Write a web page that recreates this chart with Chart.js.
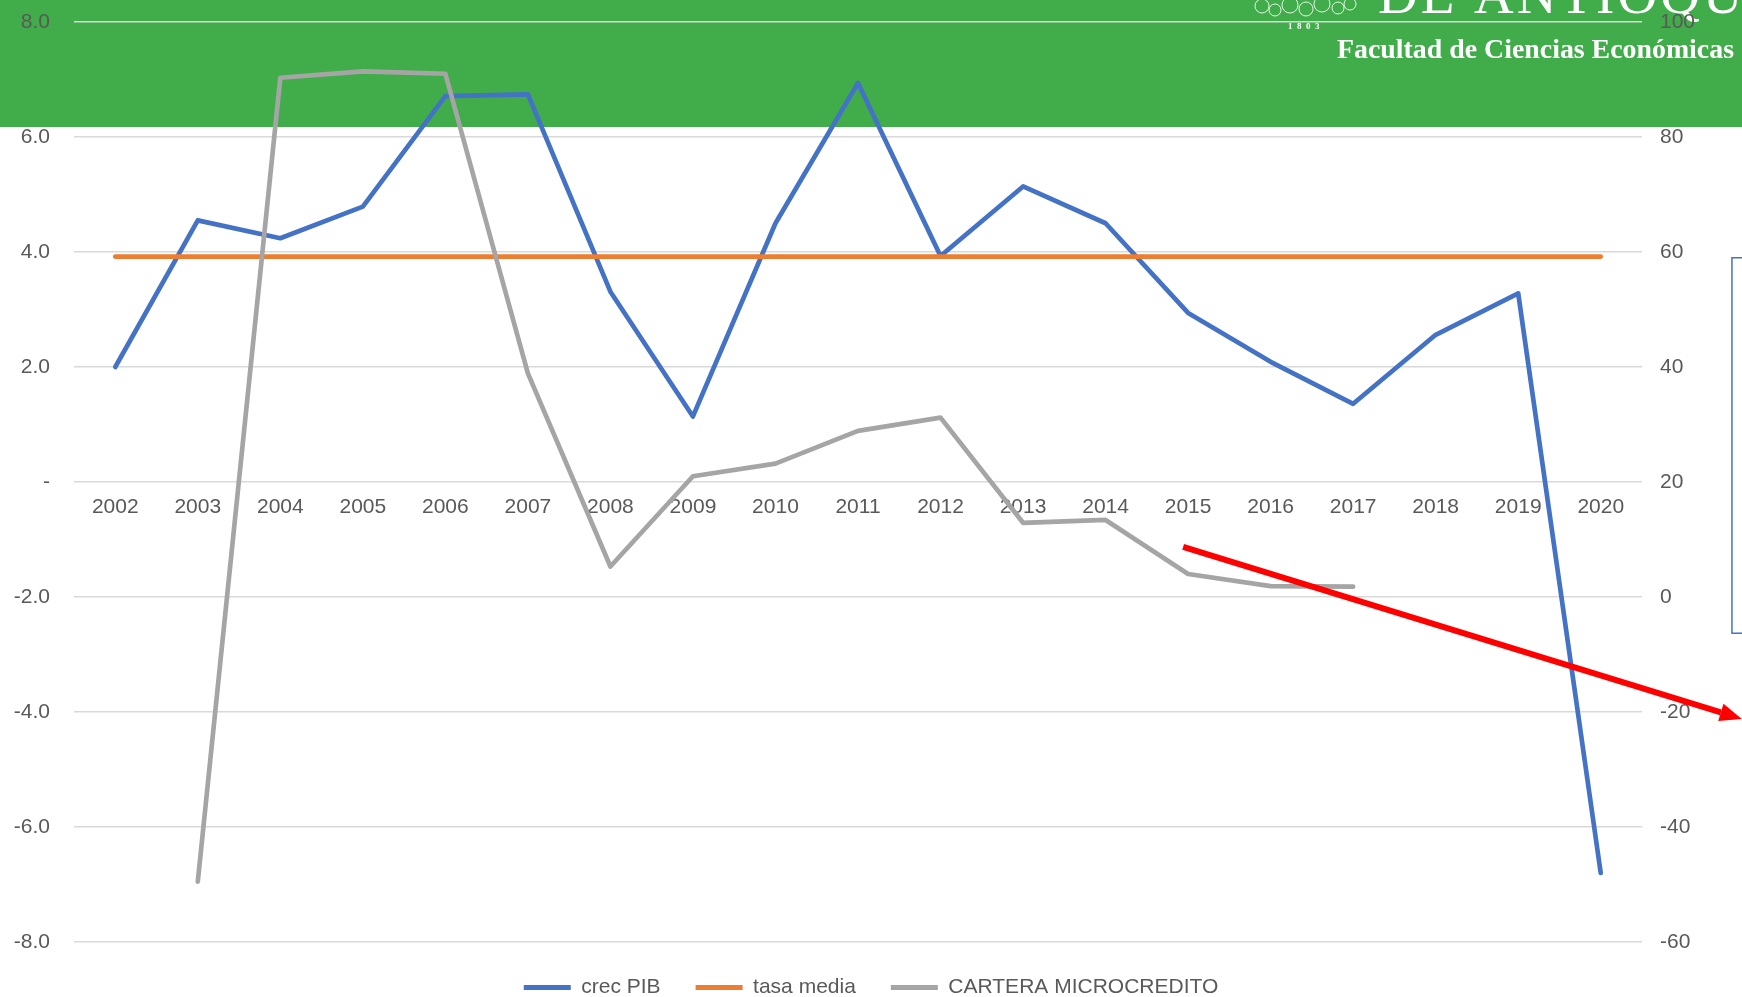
<!DOCTYPE html>
<html>
<head>
<meta charset="utf-8">
<script src="https://cdn.jsdelivr.net/npm/chart.js@4/dist/chart.umd.min.js"></script>
<style>
html,body{margin:0;padding:0;background:#fff;}
#wrap{width:1742px;height:997px;}
</style>
</head>
<body>
<div id="wrap"><canvas id="c" width="1742" height="997"></canvas></div>
<script>
const years = ['2002','2003','2004','2005','2006','2007','2008','2009','2010','2011','2012','2013','2014','2015','2016','2017','2018','2019','2020'];
const crecPIB = [2.0, 4.55, 4.24, 4.79, 6.71, 6.74, 3.31, 1.14, 4.50, 6.94, 3.93, 5.14, 4.50, 2.94, 2.09, 1.36, 2.56, 3.28, -6.8];
const tasaMedia = [3.92, 3.92, 3.92, 3.92, 3.92, 3.92, 3.92, 3.92, 3.92, 3.92, 3.92, 3.92, 3.92, 3.92, 3.92, 3.92, 3.92, 3.92, 3.92];
const carteraMicro = [null, -49.5, 90.3, 91.4, 91.0, 38.9, 5.3, 21.0, 23.2, 28.9, 31.2, 12.9, 13.4, 4.0, 1.9, 1.8, null, null, null];
const seriesNames = ['crec PIB', 'tasa media', 'CARTERA MICROCREDITO'];
const leftTicks = {min: -8, max: 8, step: 2};
const rightTicks = {min: -60, max: 100, step: 20};
// annotation (red arrow) in data units: [categoryIndex, rightAxisValue]
const arrowFrom = [12.94, 8.7];
const arrowTo = [19.71, -21.2];
// blue box annotation in data units
const boxFrom = [19.59, 59.0];
const boxTo = [20.5, -6.3];

const TXT = '#595959';
const GRID = '#D9D9D9';
const FONT = "'Liberation Sans', Arial, sans-serif";
const FS = 21;

const bannerPlugin = {
  id: 'banner',
  beforeDraw(chart) {
    const ctx = chart.ctx;
    ctx.save();
    ctx.fillStyle = '#41AD4A';
    ctx.fillRect(0, 0, chart.width, 127);
    ctx.fillStyle = '#ffffff';
    ctx.strokeStyle = 'rgba(255,255,255,0.85)';
    ctx.lineWidth = 1;
    const blobs = [[1262,6,7],[1275,10,6],[1290,5,8],[1306,9,7],[1322,4,8],[1338,8,6],[1350,4,6]];
    blobs.forEach(b => { ctx.beginPath(); ctx.arc(b[0], b[1], b[2], 0, Math.PI*2); ctx.stroke(); });
    ctx.font = "bold 9px 'Liberation Serif', serif";
    ctx.textAlign = 'left';
    ctx.textBaseline = 'alphabetic';
    ctx.fillText('1  8  0  3', 1288, 29);
    ctx.font = "55px 'Liberation Serif', serif";
    if ('letterSpacing' in ctx) ctx.letterSpacing = '3px';
    ctx.fillText('DE ANTIOQUIA', 1378, 13);
    if ('letterSpacing' in ctx) ctx.letterSpacing = '0px';
    const sub = 'Facultad de Ciencias Económicas';
    let fs = 30;
    ctx.font = "bold " + fs + "px 'Liberation Serif', serif";
    const w = ctx.measureText(sub).width;
    fs = fs * 397 / w;
    ctx.font = "bold " + fs.toFixed(2) + "px 'Liberation Serif', serif";
    ctx.textAlign = 'right';
    ctx.fillText(sub, 1734, 58);
    ctx.restore();
  },
  afterDraw(chart) {
    const ctx = chart.ctx;
    const xs = chart.scales.x, yr = chart.scales.y1;
    const px = v => xs.getPixelForValue(v[0]);
    const py = v => yr.getPixelForValue(v[1]);
    ctx.save();
    ctx.strokeStyle = '#4472C4';
    ctx.lineWidth = 1.5;
    ctx.strokeRect(px(boxFrom), py(boxFrom), px(boxTo) - px(boxFrom), py(boxTo) - py(boxFrom));
    const x1 = px(arrowFrom), y1 = py(arrowFrom), x2 = px(arrowTo), y2 = py(arrowTo);
    const ang = Math.atan2(y2 - y1, x2 - x1);
    const head = 22, hw = 9;
    const bx = x2 - head * Math.cos(ang), by = y2 - head * Math.sin(ang);
    ctx.strokeStyle = '#FF0000';
    ctx.lineWidth = 6;
    ctx.beginPath(); ctx.moveTo(x1, y1); ctx.lineTo(bx, by); ctx.stroke();
    ctx.fillStyle = '#FF0000';
    ctx.beginPath();
    ctx.moveTo(x2, y2);
    ctx.lineTo(bx + hw * Math.sin(ang), by - hw * Math.cos(ang));
    ctx.lineTo(bx - hw * Math.sin(ang), by + hw * Math.cos(ang));
    ctx.closePath(); ctx.fill();
    ctx.restore();
  }
};

const mk = (label, data, color, axis, order) => ({
  label, data, borderColor: color, backgroundColor: color, yAxisID: axis, order,
  borderWidth: 4.7, pointRadius: 0, pointHoverRadius: 0, tension: 0,
  borderCapStyle: 'round', borderJoinStyle: 'round', fill: false, spanGaps: false
});

new Chart(document.getElementById('c'), {
  type: 'line',
  data: {
    labels: years,
    datasets: [
      mk(seriesNames[0], crecPIB, '#4472C4', 'y', 2),
      mk(seriesNames[1], tasaMedia, '#ED7D31', 'y', 1),
      mk(seriesNames[2], carteraMicro, '#A5A5A5', 'y1', 0)
    ]
  },
  options: {
    responsive: false,
    animation: false,
    devicePixelRatio: 1,
    layout: {padding: {top: 22, left: 0, right: 0, bottom: -11}},
    plugins: {
      tooltip: {enabled: false},
      legend: {
        position: 'bottom',
        labels: {
          boxWidth: 47, boxHeight: 5, padding: 35, color: TXT,
          font: {family: FONT, size: FS},
          generateLabels(chart) {
            return chart.data.datasets.map((ds, i) => ({
              text: ds.label, fillStyle: ds.borderColor, strokeStyle: ds.borderColor,
              lineWidth: 0, hidden: false, datasetIndex: i, fontColor: TXT
            }));
          }
        }
      }
    },
    scales: {
      x: {
        type: 'category',
        offset: true,
        position: {y: 0},
        grid: {display: false, offset: true},
        border: {display: false},
        ticks: {color: TXT, font: {family: FONT, size: FS}, padding: 5, maxRotation: 0, autoSkip: false},
        afterFit(s) { s.height = 0; }
      },
      y: {
        position: 'left',
        min: leftTicks.min, max: leftTicks.max,
        grid: {color: GRID, lineWidth: 1.5, drawTicks: false},
        border: {display: false},
        ticks: {
          stepSize: leftTicks.step, color: TXT, font: {family: FONT, size: FS}, padding: 24,
          callback: v => v === 0 ? '-' : v.toFixed(1)
        },
        afterFit(s) { s.width = 74; s.paddingTop = 10; s.paddingBottom = 10; }
      },
      y1: {
        position: 'right',
        min: rightTicks.min, max: rightTicks.max,
        grid: {drawOnChartArea: false, drawTicks: false},
        border: {display: false},
        ticks: {stepSize: rightTicks.step, color: TXT, font: {family: FONT, size: FS}, padding: 18},
        afterFit(s) { s.width = 100; s.paddingTop = 10; s.paddingBottom = 10; }
      }
    }
  },
  plugins: [bannerPlugin]
});
</script>
</body>
</html>
